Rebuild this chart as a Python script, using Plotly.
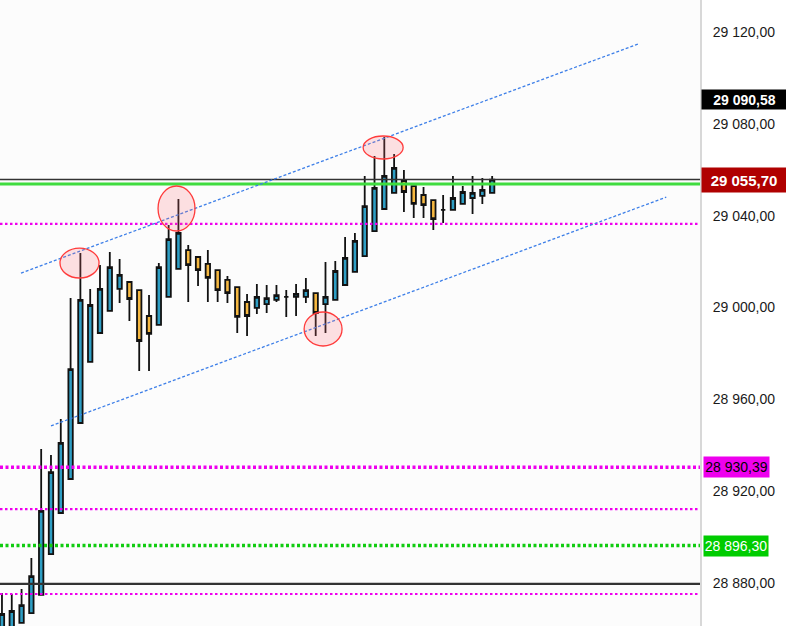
import plotly.graph_objects as go

# ---- data ----
idx = list(range(51))
opens = [28859.0, 28859.0, 28862.6, 28866.9, 28874.8, 28892.6, 28910.5, 28925.3, 28949.7, 28976.3,
         28988.9, 28998.5, 29008.1, 29011.1, 29007.6, 28996.3, 28992.4, 29004.6, 29016.8, 29025.0,
         29022.0, 29019.0, 29016.3, 29012.0, 29008.9, 29002.4, 28999.8, 29001.5, 29003.3, 29004.6,
         29004.6, 29004.6, 29006.3, 29001.5, 29003.3, 29009.8, 29015.5, 29022.4, 29033.3, 29042.9,
         29049.9, 29055.1, 29052.9, 29049.0, 29046.8, 29042.5, 29042.5, 29045.1, 29047.7, 29048.6,
         29049.9]
highs = [28875.6, 28875.2, 28877.4, 28890.9, 28938.4, 28935.8, 28951.4, 29004.1, 29023.7, 29008.1,
         29018.5, 29024.2, 29021.1, 29011.5, 29007.9, 29005.4, 29019.4, 29035.9, 29047.3, 29027.2,
         29022.0, 29025.0, 29016.3, 29013.7, 29008.9, 29005.9, 29010.2, 29009.8, 29009.8, 29007.6,
         29010.2, 29012.9, 29006.3, 29019.8, 29020.3, 29030.7, 29032.5, 29057.3, 29066.0, 29074.3,
         29066.9, 29059.9, 29052.9, 29052.5, 29046.8, 29049.0, 29057.3, 29052.9, 29057.3, 29056.4,
         29057.3]
lows = [28856.0, 28856.0, 28862.4, 28866.7, 28874.6, 28892.4, 28910.3, 28925.1, 28949.5, 28976.1,
        28988.7, 28998.3, 29002.0, 28994.1, 28972.3, 28972.3, 28992.2, 29004.4, 29016.6, 29002.4,
        29009.4, 29002.4, 29002.4, 29002.0, 28988.9, 28987.6, 28997.2, 28997.6, 29002.4, 28995.9,
        28996.3, 29002.0, 28987.6, 28988.9, 29003.1, 29009.6, 29015.3, 29022.2, 29033.1, 29042.7,
        29049.7, 29041.6, 29039.0, 29039.0, 29033.8, 29036.8, 29042.3, 29044.9, 29040.7, 29045.1,
        29049.7]
closes = [28866.5, 28867.8, 28870.4, 28883.0, 28911.4, 28928.3, 28941.0, 28973.2, 29003.3, 29001.1,
          29008.1, 29017.6, 29014.2, 29003.7, 28985.4, 28988.5, 29017.6, 29029.8, 29032.5, 29018.5,
          29016.3, 29012.9, 29007.6, 29006.3, 28995.9, 28996.3, 29004.6, 29004.1, 29005.4, 29004.6,
          29005.9, 29007.6, 28997.6, 29004.6, 29015.9, 29021.6, 29029.0, 29044.2, 29052.1, 29057.3,
          29060.8, 29050.3, 29045.1, 29044.6, 29038.5, 29042.5, 29047.7, 29050.3, 29049.9, 29051.2,
          29055.7]

# horizontal levels
hline_prices = [29055.7, 29053.8, 29036.4, 28930.39, 28912.2, 28896.3, 28879.6, 28875.2]
hline_colors = ["#333333", "#3fdc3f", "#ee00ee", "#ee00ee", "#ee00ee", "#11cc11", "#333333", "#ee00ee"]
hline_widths = [1.5, 3, 2.2, 3.5, 2.2, 3.5, 2.4, 2.2]
hline_dashes = ["solid", "solid", "2.5px,2.5px", "3px,2.5px", "2.5px,2.5px", "3px,2.5px", "solid", "2.5px,2.5px"]

# channel lines (x in bar index, y in price)
channel_x0 = [1.94, 5.0]
channel_y0 = [29015.0, 28948.4]
channel_x1 = [64.9, 67.76]
channel_y1 = [29114.8, 29048.1]

# highlight ellipses
ell_x0 = [5.92, 15.92, 36.84, 30.82]
ell_x1 = [9.90, 19.69, 40.92, 34.69]
ell_y0 = [29012.85, 29033.32, 29064.68, 28983.23]
ell_y1 = [29025.9, 29052.92, 29074.70, 28998.04]

# price tags on axis
tag_prices = [29090.58, 29055.70, 28930.39, 28896.30]
tag_texts = ["29 090,58", "29 055,70", "28 930,39", "28 896,30"]
tag_bg = ["#000000", "#b00000", "#ee00ee", "#00cc00"]
tag_fg = ["#ffffff", "#ffffff", "#000000", "#ffffff"]
tag_bold = [True, True, False, False]
tag_size = [14, 15, 14, 14]
tag_w = [85, 84, 65, 64]
tag_h = [19, 24, 20, 20]
tag_shift = [1, 1, 3, 3]

tick_vals = [28880, 28920, 28960, 29000, 29040, 29080, 29120]
tick_text = ["28 880,00", "28 920,00", "28 960,00", "29 000,00", "29 040,00", "29 080,00", "29 120,00"]

fig = go.Figure()
fig.add_trace(go.Candlestick(
    x=idx, open=opens, high=highs, low=lows, close=closes,
    increasing=dict(fillcolor="#2e9ec4", line=dict(color="#111111", width=1.8)),
    decreasing=dict(fillcolor="#f6b840", line=dict(color="#111111", width=1.8)),
    whiskerwidth=0, hoverinfo="skip", showlegend=False,
))

shapes = []
for p, c, w, d in zip(hline_prices, hline_colors, hline_widths, hline_dashes):
    shapes.append(dict(type="line", xref="paper", yref="y", x0=0, x1=1, y0=p, y1=p,
                       line=dict(color=c, width=w, dash=d), layer="above"))
for a, b, c, d in zip(channel_x0, channel_y0, channel_x1, channel_y1):
    shapes.append(dict(type="line", xref="x", yref="y", x0=a, y0=b, x1=c, y1=d,
                       line=dict(color="#3d7fe8", width=1.3, dash="3px,2px"), layer="above"))
for a, b, c, d in zip(ell_x0, ell_y0, ell_x1, ell_y1):
    shapes.append(dict(type="circle", xref="x", yref="y", x0=a, y0=b, x1=c, y1=d,
                       line=dict(color="#ff3b3b", width=1.3),
                       fillcolor="rgba(255,110,120,0.2)", layer="above"))

annotations = []
for p, t, bg, fg, bd, sz, w, h, sh in zip(tag_prices, tag_texts, tag_bg, tag_fg, tag_bold,
                                          tag_size, tag_w, tag_h, tag_shift):
    annotations.append(dict(
        x=1, xref="paper", y=p, yref="y", xanchor="left", yanchor="middle", xshift=sh,
        text=("<b>%s</b>" % t) if bd else t, showarrow=False,
        font=dict(family="Liberation Sans, Arial, sans-serif", size=sz, color=fg),
        bgcolor=bg, width=w, height=h, align="center", borderpad=0))

fig.update_layout(
    width=786, height=626,
    margin=dict(l=0, r=86, t=0, b=0, autoexpand=False),
    paper_bgcolor="#ffffff", plot_bgcolor="#fcfcfc",
    boxgap=0.36,
    shapes=shapes, annotations=annotations,
    showlegend=False,
    font=dict(family="Liberation Sans, Arial, sans-serif", size=14, color="#222222"),
    xaxis=dict(range=[-0.2, 71.2], visible=False, rangeslider=dict(visible=False),
               showgrid=False, zeroline=False, automargin=False),
    yaxis=dict(range=[28861.27, 29133.94], side="right", tickvals=tick_vals, ticktext=tick_text,
               showgrid=False, zeroline=False, showline=True, linecolor="#d8d8d8", linewidth=2,
               ticks="", ticklabelstandoff=8, tickfont=dict(size=14, color="#1a1a1a"),
               automargin=False),
)

fig.write_html("out.html", config={"displayModeBar": False},
               post_script="document.body.style.margin='0';document.body.style.overflow='hidden';")
